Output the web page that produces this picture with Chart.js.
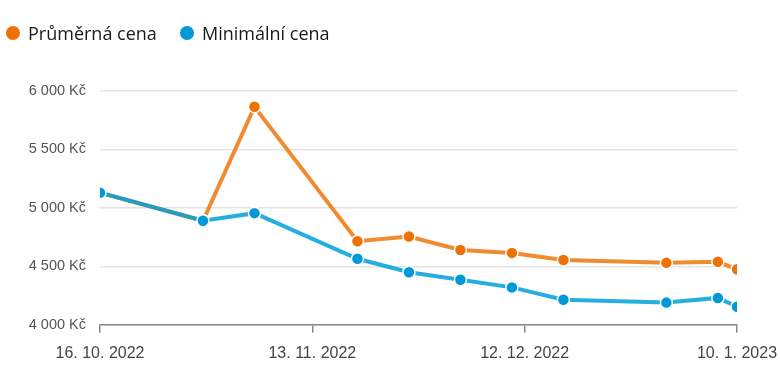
<!DOCTYPE html>
<html>
<head>
<meta charset="utf-8">
<script src="https://cdn.jsdelivr.net/npm/chart.js@4"></script>
<style>
  html, body { margin: 0; padding: 0; background: #fff; }
  #wrap { width: 780px; height: 390px; position: relative; }
  #legend { position: absolute; left: 0; top: 0; width: 780px; height: 60px; font-family: 'Open Sans', sans-serif; font-size: 18px; color: #1a1a1a; }
  .item { position: absolute; top: 21px; height: 24px; line-height: 24px; white-space: nowrap; }
  .dot { position: absolute; left: 0; top: 5px; width: 14px; height: 14px; border-radius: 50%; }
  .lbl { position: absolute; left: 22px; top: 0; }
</style>
</head>
<body>
<div id="wrap"><div id="legend"></div><canvas id="c" width="780" height="390" style="width:780px;height:390px"></canvas></div>
<script>
// Days since 16. 10. 2022
const dayOffsets = [0, 14, 21, 35, 42, 49, 56, 63, 77, 84, 86.6];
const averagePrice = [5130, 4890, 5865, 4715, 4755, 4640, 4615, 4555, 4530, 4540, 4475];
const minimumPrice = [5130, 4890, 4955, 4565, 4450, 4385, 4320, 4215, 4190, 4230, 4155];
const xTickLabels = ['16. 10. 2022', '13. 11. 2022', '12. 12. 2022', '10. 1. 2023'];
const seriesNames = ['Průměrná cena', 'Minimální cena'];
const seriesColors = ['#EE7203', '#0099D8'];
const yTicks = [4000, 4500, 5000, 5500, 6000];

const xMax = dayOffsets[dayOffsets.length - 1];

// HTML legend
const legendEl = document.getElementById('legend');
const legendLefts = [6, 180];
seriesNames.forEach((name, i) => {
  const item = document.createElement('div');
  item.className = 'item';
  item.style.left = legendLefts[i] + 'px';
  const dot = document.createElement('span');
  dot.className = 'dot';
  dot.style.background = seriesColors[i];
  const lbl = document.createElement('span');
  lbl.className = 'lbl';
  lbl.textContent = name;
  item.appendChild(dot);
  item.appendChild(lbl);
  legendEl.appendChild(item);
});

new Chart(document.getElementById('c'), {
  type: 'line',
  data: {
    datasets: [
      {
        label: seriesNames[0],
        data: dayOffsets.map((d, i) => ({ x: d, y: averagePrice[i] })),
        borderColor: 'rgba(238,114,3,0.82)',
        backgroundColor: seriesColors[0],
        pointBackgroundColor: seriesColors[0],
        pointBorderColor: '#fff',
        pointBorderWidth: 1.5,
        pointRadius: 6,
        borderWidth: 4,
        tension: 0,
        order: 1
      },
      {
        label: seriesNames[1],
        data: dayOffsets.map((d, i) => ({ x: d, y: minimumPrice[i] })),
        borderColor: 'rgba(0,160,220,0.85)',
        backgroundColor: seriesColors[1],
        pointBackgroundColor: seriesColors[1],
        pointBorderColor: '#fff',
        pointBorderWidth: 1.5,
        pointRadius: 6,
        borderWidth: 4,
        tension: 0,
        order: 0
      }
    ]
  },
  options: {
    responsive: false,
    animation: false,
    layout: { padding: { left: 4, right: 0, top: 91, bottom: 16 } },
    plugins: {
      tooltip: { enabled: false },
      legend: { display: false }
    },
    scales: {
      x: {
        type: 'linear',
        min: 0,
        max: xMax,
        afterBuildTicks(scale) {
          scale.ticks = xTickLabels.map((_, i) => ({ value: i * xMax / 3 }));
        },
        afterFit(scale) { scale.paddingRight = 43; scale.paddingLeft = 0; },
        ticks: {
          autoSkip: false,
          maxRotation: 0,
          padding: 11,
          color: '#444',
          font: { family: 'Liberation Sans', size: 16 },
          callback: (v, i) => xTickLabels[i]
        },
        grid: { drawOnChartArea: false, drawTicks: true, tickLength: 8, color: '#888', lineWidth: 1.5 },
        border: { display: true, color: '#888', width: 1.5 }
      },
      y: {
        min: 4000,
        max: 6000,
        afterBuildTicks(scale) {
          scale.ticks = yTicks.map(v => ({ value: v }));
        },
        afterFit(scale) { scale.width = 96; },
        ticks: {
          padding: 14,
          color: '#555',
          font: { family: 'Liberation Sans', size: 14.5 },
          callback: v => String(v).replace(/\B(?=(\d{3})+(?!\d))/g, ' ') + ' Kč'
        },
        grid: { drawTicks: false, color: '#e3e3e3', lineWidth: 1.5 },
        border: { display: false }
      }
    }
  }
});
</script>
</body>
</html>
